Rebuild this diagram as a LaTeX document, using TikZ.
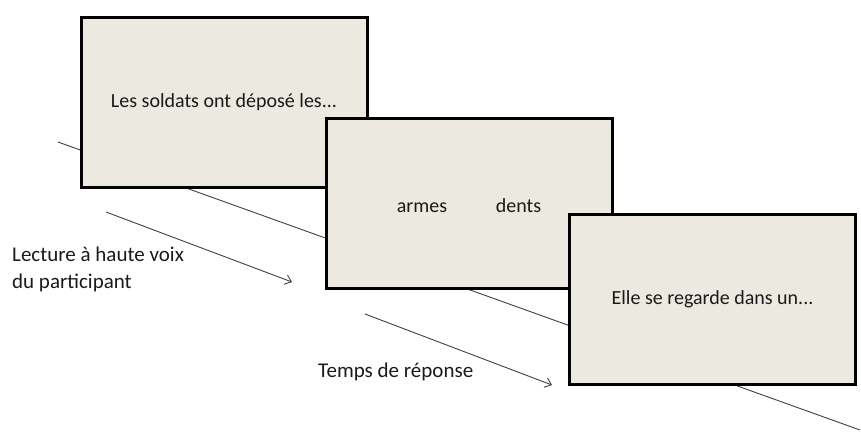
\documentclass[tikz,border=0pt]{standalone}
\usepackage{fontspec}
\setmainfont{Carlito}
\usetikzlibrary{arrows.meta}
\definecolor{boxfill}{HTML}{ECE9E0}
\definecolor{linegray}{HTML}{404040}
\definecolor{txt}{HTML}{1A1A1A}
\tikzset{
  screen/.style={draw=black, line width=3pt, fill=boxfill, minimum width=286pt, minimum height=170pt, inner sep=0pt, text=txt, font=\fontsize{20}{24}\selectfont},
  word/.style={text=txt, inner sep=0pt, font=\fontsize{20}{24}\selectfont},
  timeline/.style={draw=linegray, line width=0.9pt},
  flow/.style={draw=linegray, line width=0.9pt, -{Straight Barb[length=6pt,width=10pt]}},
  label/.style={text=txt, font=\fontsize{21}{27}\selectfont, inner sep=0pt, align=left}
}
\begin{document}
\begin{tikzpicture}[x=1pt,y=-1pt]
\useasboundingbox (0,0) rectangle (861,437);
\coordinate (t0) at (58,142);
\coordinate (t1) at (860,430);
\draw[timeline] (t0) -- (t1);
\node[screen] (s1) at (224,102) {Les soldats ont déposé les...};
\node[screen] (s2) at (469,203.5) {};
\node[word, anchor=base] (w1) at (422,212.5) {armes};
\node[word, anchor=base] (w2) at (518.5,212.5) {dents};
\node[screen] (s3) at (712.5,299) {Elle se regarde dans un...};
\coordinate (a1s) at (106,212);
\coordinate (a1e) at (292,282);
\draw[flow] (a1s) -- (a1e);
\coordinate (a2s) at (365,314);
\coordinate (a2e) at (552,385);
\draw[flow] (a2s) -- (a2e);
\node[label, anchor=base west] (l1) at (12,288) {Lecture à haute voix\\du participant};
\node[label, anchor=base west] (l2) at (318,377) {Temps de réponse};
\end{tikzpicture}
\end{document}
